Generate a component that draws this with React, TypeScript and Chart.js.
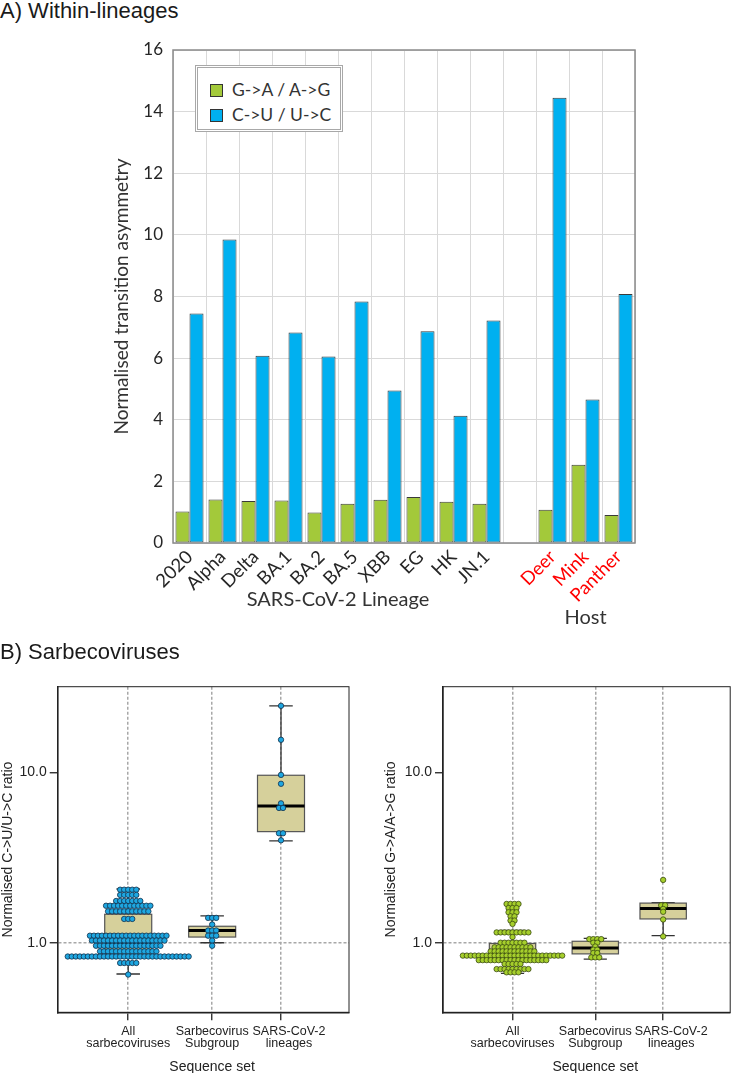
import React, { useEffect, useRef } from "react";
import { Chart, registerables } from "chart.js";

Chart.register(...registerables);

// ---------- Panel A data ----------
const lineageCategories = ["2020", "Alpha", "Delta", "BA.1", "BA.2", "BA.5", "XBB", "EG", "HK", "JN.1", "", "Deer", "Mink", "Panther"];
const hostCategories = ["Deer", "Mink", "Panther"];
const gaAsymmetry = [1.02, 1.41, 1.36, 1.38, 0.99, 1.27, 1.40, 1.49, 1.34, 1.27, null, 1.08, 2.54, 0.91];
const cuAsymmetry = [7.45, 9.85, 6.08, 6.83, 6.05, 7.84, 4.95, 6.87, 4.13, 7.22, null, 14.45, 4.66, 8.08];
const asymmetryMax = 16;
const asymmetryStep = 2;

// ---------- Panel B data ----------
const setLabels = [["All", "sarbecoviruses"], ["Sarbecovirus", "Subgroup"], ["SARS-CoV-2", "lineages"]];
const setPositions = [1, 2, 2.82];
const setLabelShift = [0, 0, 8];
const ratioTicks = [1, 10];

// box stats: [lower whisker, Q1, median, Q3, upper whisker]
const cuBoxAll = [0.655, 0.84, 1.0, 1.47, 2.07];
const cuBoxSub = [1.0, 1.08, 1.18, 1.25, 1.44];
const cuBoxLin = [3.97, 4.5, 6.37, 9.65, 24.7];
const gaBoxAll = [0.66, 0.82, 0.87, 0.99, 1.18];
const gaBoxSub = [0.8, 0.86, 0.93, 1.02, 1.06];
const gaBoxLin = [1.1, 1.38, 1.59, 1.71, 1.72];

// dot rows: [value, number of sequences]
const cuDotsAll = [[2.05, 5], [1.91, 5], [1.76, 7], [1.65, 12], [1.53, 11], [1.38, 3], [1.10, 20], [1.03, 19], [0.96, 17], [0.89, 15], [0.83, 31], [0.76, 5], [0.65, 1]];
const cuDotsSub = [[1.40, 3], [1.28, 1], [1.18, 3], [1.10, 3], [1.03, 1], [0.96, 1]];
const cuDotsLin = [[24.7, 1], [15.6, 1], [9.7, 1], [8.6, 1], [6.6, 1], [6.2, 2], [4.4, 2], [4.0, 1]];
const gaDotsAll = [[1.69, 4], [1.60, 3], [1.51, 3], [1.43, 2], [1.35, 2], [1.29, 1], [1.15, 9], [1.08, 1], [1.00, 7], [0.94, 10], [0.89, 12], [0.84, 26], [0.79, 18], [0.75, 5], [0.70, 9], [0.67, 4]];
const gaDotsSub = [[1.05, 4], [1.00, 2], [0.95, 1], [0.91, 2], [0.87, 2], [0.82, 3]];
const gaDotsLin = [[2.34, 1], [1.66, 2], [1.58, 1], [1.52, 1], [1.37, 1], [1.09, 1]];

// layout constants (data units of the x scale)
const X_MIN = 0.16;
const X_MAX = 3.63;
const BOX_WIDTH = 0.56;
const DOT_STEP = 0.048;

const GREEN = "#a3c93a";
const BLUE = "#00b0f0";

function swarm(rows: number[][], pos: number) {
  const pts: { x: number; y: number }[] = [];
  rows.forEach(([v, n]) => {
    for (let i = 0; i < n; i++) pts.push({ x: pos + (i - (n - 1) / 2) * DOT_STEP, y: v });
  });
  return pts;
}

function ChartCanvas({ left, top, width, height, makeConfig }: any) {
  const ref = useRef<HTMLCanvasElement>(null);
  useEffect(() => {
    const chart = new Chart(ref.current as HTMLCanvasElement, makeConfig());
    return () => chart.destroy();
  }, []);
  return (
    <canvas
      ref={ref}
      width={width}
      height={height}
      style={{ position: "absolute", left, top, width, height }}
    />
  );
}

function makeBarConfig(): any {
  const framePlugin = {
    id: "frameA",
    afterDatasetsDraw(chart: any) {
      const { ctx, chartArea: a, scales } = chart;
      ctx.save();
      ctx.strokeStyle = "#8a8a8a";
      ctx.lineWidth = 1.5;
      ctx.strokeRect(a.left, a.top, a.right - a.left, a.bottom - a.top);
      ctx.restore();
      // group titles
      const x = scales.x;
      ctx.save();
      ctx.font = "20px Lato";
      ctx.fillStyle = "#333333";
      ctx.textAlign = "center";
      ctx.textBaseline = "middle";
      ctx.fillText("SARS-CoV-2 Lineage", x.getPixelForValue(4.5), 600);
      const hostCenter = (lineageCategories.indexOf(hostCategories[0]) + lineageCategories.indexOf(hostCategories[hostCategories.length - 1])) / 2;
      ctx.fillText("Host", x.getPixelForValue(hostCenter), 618);
      ctx.restore();
    },
  };
  const barStyle = { borderColor: "#3a3a3a", borderWidth: 1, borderSkipped: false, categoryPercentage: 0.85, barPercentage: 1 };
  return {
    type: "bar",
    data: {
      labels: lineageCategories,
      datasets: [
        { label: "G->A / A->G", data: gaAsymmetry, backgroundColor: GREEN, ...barStyle },
        { label: "C->U / U->C", data: cuAsymmetry, backgroundColor: BLUE, ...barStyle },
      ],
    },
    options: {
      responsive: false,
      animation: false,
      layout: { padding: { top: 50, right: 100, left: 0, bottom: 0 } },
      plugins: { legend: { display: false }, tooltip: { enabled: false } },
      scales: {
        x: {
          grid: { color: "#d9d9d9", drawTicks: false, offset: true },
          border: { display: false },
          ticks: {
            autoSkip: false,
            minRotation: 45,
            maxRotation: 45,
            padding: 3,
            font: { family: "Lato", size: 18.5 },
            color: (c: any) => (hostCategories.includes(lineageCategories[c.index]) ? "#ff0000" : "#262626"),
          },
          afterFit: (s: any) => { s.height = 97; },
        },
        y: {
          min: 0,
          max: asymmetryMax,
          grid: { color: "#d9d9d9", drawTicks: false },
          border: { display: false },
          ticks: { stepSize: asymmetryStep, padding: 10, font: { family: "Lato", size: 17 }, color: "#262626" },
          title: { display: true, text: "Normalised transition asymmetry", font: { family: "Lato", size: 19 }, color: "#333333", padding: { top: 110, bottom: 0 } },
          afterFit: (s: any) => { s.width = 173; },
        },
      },
    },
    plugins: [framePlugin],
  };
}

function makeBoxConfig(p: any): any {
  const boxPlugin = {
    id: "boxes",
    beforeDatasetsDraw(chart: any) {
      const { ctx, scales: { x, y } } = chart;
      p.boxes.forEach((b: number[], i: number) => {
        const pos = setPositions[i];
        const cx = x.getPixelForValue(pos);
        const hw = x.getPixelForValue(pos + BOX_WIDTH / 2) - cx;
        const [lo, q1, med, q3, hi] = b.map((v) => y.getPixelForValue(v));
        ctx.save();
        ctx.strokeStyle = "#333";
        ctx.lineWidth = 1.3;
        ctx.beginPath();
        ctx.moveTo(cx, hi); ctx.lineTo(cx, q3);
        ctx.moveTo(cx, q1); ctx.lineTo(cx, lo);
        ctx.moveTo(cx - hw / 2, hi); ctx.lineTo(cx + hw / 2, hi);
        ctx.moveTo(cx - hw / 2, lo); ctx.lineTo(cx + hw / 2, lo);
        ctx.stroke();
        ctx.fillStyle = "#d6d09b";
        ctx.fillRect(cx - hw, q3, 2 * hw, q1 - q3);
        ctx.strokeStyle = "#555";
        ctx.lineWidth = 1.2;
        ctx.strokeRect(cx - hw, q3, 2 * hw, q1 - q3);
        ctx.strokeStyle = "#000";
        ctx.lineWidth = 3;
        ctx.beginPath();
        ctx.moveTo(cx - hw, med); ctx.lineTo(cx + hw, med);
        ctx.stroke();
        ctx.restore();
      });
    },
    afterDraw(chart: any) {
      const { ctx, chartArea: a, scales: { x } } = chart;
      ctx.save();
      ctx.strokeStyle = "#222";
      ctx.lineWidth = 1;
      ctx.strokeRect(a.left, a.top, a.right - a.left, a.bottom - a.top);
      ctx.fillStyle = "#222";
      ctx.textAlign = "center";
      ctx.textBaseline = "middle";
      ctx.font = "12.5px 'Liberation Sans'";
      setLabels.forEach((lines, i) => {
        const cx = x.getPixelForValue(setPositions[i]) + setLabelShift[i];
        lines.forEach((t, j) => ctx.fillText(t, cx, a.bottom + 19 + j * 12.5));
      });
      ctx.font = "14px 'Liberation Sans'";
      ctx.textBaseline = "alphabetic";
      ctx.fillText("Sequence set", x.getPixelForValue(setPositions[1]), 431);
      ctx.restore();
    },
  };
  const datasets = p.dots.map((rows: number[][], i: number) => ({
    type: "scatter",
    data: swarm(rows, setPositions[i]),
    pointRadius: 2.7,
    pointBackgroundColor: p.fill,
    pointBorderColor: p.stroke,
    pointBorderWidth: 0.8,
    showLine: false,
  }));
  return {
    type: "scatter",
    data: { datasets },
    options: {
      responsive: false,
      animation: false,
      layout: { padding: { top: 46.7, right: p.padRight, left: 0, bottom: 0 } },
      plugins: { legend: { display: false }, tooltip: { enabled: false } },
      scales: {
        x: {
          type: "linear",
          min: X_MIN,
          max: X_MAX,
          afterBuildTicks: (s: any) => { s.ticks = setPositions.map((v) => ({ value: v })); },
          ticks: { display: false },
          grid: { color: "#a8a8a8", lineWidth: 1.5, drawTicks: true, tickLength: 8, tickColor: "#222", tickWidth: 1.3 },
          border: { display: true, color: "#222", width: 1.5, dash: [3, 2] },
          afterFit: (s: any) => { s.height = 60.7; },
        },
        y: {
          type: "logarithmic",
          min: 0.39,
          max: 32,
          afterBuildTicks: (s: any) => { s.ticks = ratioTicks.map((v) => ({ value: v })); },
          ticks: {
            callback: (v: any) => Number(v).toFixed(1),
            font: { family: "Liberation Sans", size: 14 },
            color: "#222",
            padding: 3,
          },
          grid: {
            color: (c: any) => (c.tick && c.tick.value === 1 ? "#a8a8a8" : "rgba(0,0,0,0)"),
            lineWidth: 1.5,
            drawTicks: true,
            tickLength: 8,
            tickColor: "#222",
            tickWidth: 1.3,
          },
          border: { display: true, color: "#222", width: 1.5, dash: [3, 2] },
          title: { display: true, text: p.yTitle, font: { family: "Liberation Sans", size: 14 }, color: "#222", padding: { top: p.titlePad, bottom: 0 } },
          afterFit: (s: any) => { s.width = p.yWidth; },
        },
      },
    },
    plugins: [boxPlugin],
  };
}

const titleStyle: any = {
  position: "absolute",
  left: 0,
  fontFamily: "'Liberation Sans', Arial, sans-serif",
  fontSize: 22,
  lineHeight: "22px",
  color: "#1a1a1a",
  whiteSpace: "nowrap",
};

function Legend() {
  const item = (color: string, text: string, top: number) => (
    <div style={{ position: "absolute", left: 12, top, display: "flex", alignItems: "center", height: 20 }}>
      <div style={{ width: 11, height: 11, background: color, border: "1px solid #333" }} />
      <div style={{ marginLeft: 9, fontFamily: "Lato", fontSize: 17.5, color: "#333", lineHeight: "20px" }}>{text}</div>
    </div>
  );
  return (
    <div
      style={{
        position: "absolute",
        left: 195,
        top: 65,
        width: 142,
        height: 61,
        border: "3px double #a8a8a8",
        background: "#ffffff",
      }}
    >
      {item(GREEN, "G->A / A->G", 12)}
      {item(BLUE, "C->U / U->C", 37)}
    </div>
  );
}

export default function App() {
  return (
    <div style={{ position: "absolute", left: 0, top: 0, width: 735, height: 1073, background: "#fff", overflow: "hidden" }}>
      <div style={{ ...titleStyle, top: 0 }}>A) Within-lineages</div>
      <ChartCanvas left={0} top={0} width={735} height={640} makeConfig={makeBarConfig} />
      <Legend />
      <div style={{ ...titleStyle, top: 640.5 }}>B) Sarbecoviruses</div>
      <ChartCanvas
        left={0}
        top={640}
        width={368}
        height={433}
        makeConfig={() =>
          makeBoxConfig({
            boxes: [cuBoxAll, cuBoxSub, cuBoxLin],
            dots: [cuDotsAll, cuDotsSub, cuDotsLin],
            fill: "#1ea7e1",
            stroke: "#13304a",
            yTitle: "Normalised C->U/U->C ratio",
            titlePad: 0,
            yWidth: 57.7,
            padRight: 19,
          })
        }
      />
      <ChartCanvas
        left={368}
        top={640}
        width={367}
        height={433}
        makeConfig={() =>
          makeBoxConfig({
            boxes: [gaBoxAll, gaBoxSub, gaBoxLin],
            dots: [gaDotsAll, gaDotsSub, gaDotsLin],
            fill: "#a6cf2c",
            stroke: "#3a4a12",
            yTitle: "Normalised G->A/A->G ratio",
            titlePad: 14.6,
            yWidth: 75,
            padRight: 0.7,
          })
        }
      />
    </div>
  );
}
